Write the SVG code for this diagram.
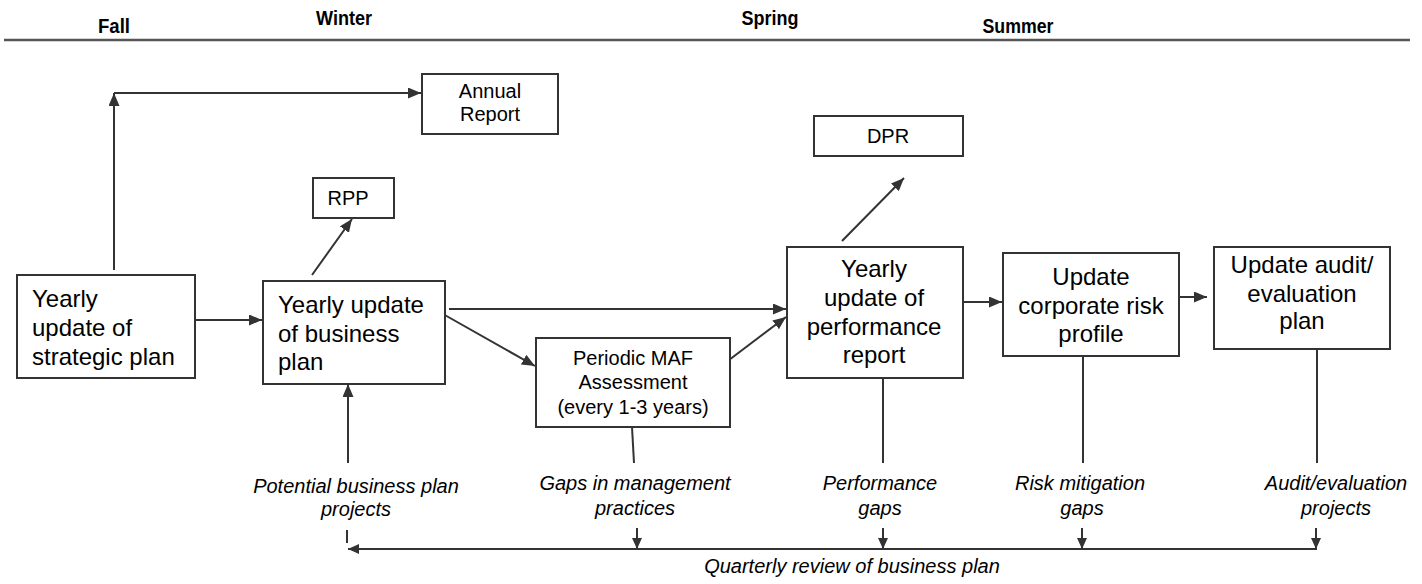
<svg xmlns="http://www.w3.org/2000/svg" width="1422" height="584" viewBox="0 0 1422 584">
<style>
.box{fill:#fff;stroke:#333;stroke-width:2}
.ln{fill:none;stroke:#333;stroke-width:2}
.hd{font-family:"Liberation Sans",Arial,sans-serif;font-weight:bold;font-size:20px;fill:#000;text-anchor:middle}
.big{font-family:"Liberation Sans",Arial,sans-serif;font-size:24px;fill:#000}
.sm{font-family:"Liberation Sans",Arial,sans-serif;font-size:20px;fill:#000;text-anchor:middle}
.it{font-family:"Liberation Sans",Arial,sans-serif;font-size:20px;font-style:italic;fill:#000;text-anchor:middle}
.c{text-anchor:middle}
</style>
<defs>
<marker id="ah" markerUnits="userSpaceOnUse" markerWidth="13" markerHeight="11" refX="13" refY="5.5" orient="auto">
<path d="M0,0 L13,5.5 L0,11 z" fill="#333"/>
</marker>
<marker id="ahs" markerUnits="userSpaceOnUse" markerWidth="11" markerHeight="10" refX="11" refY="5" orient="auto">
<path d="M0,0 L11,5 L0,10 z" fill="#333"/>
</marker>
</defs>
<rect width="1422" height="584" fill="#fff"/>
<g id="header">
<line x1="4" y1="40" x2="1410" y2="40" stroke="#555" stroke-width="2.5"/>
<text class="hd" x="114" y="33" textLength="32" lengthAdjust="spacingAndGlyphs">Fall</text>
<text class="hd" x="344" y="25" textLength="56" lengthAdjust="spacingAndGlyphs">Winter</text>
<text class="hd" x="770" y="25" textLength="57" lengthAdjust="spacingAndGlyphs">Spring</text>
<text class="hd" x="1018" y="33" textLength="71" lengthAdjust="spacingAndGlyphs">Summer</text>
</g>
<g id="connectors">
<line class="ln" x1="114" y1="270" x2="114" y2="93" marker-end="url(#ah)"/>
<line class="ln" x1="114" y1="93" x2="421" y2="93" marker-end="url(#ah)"/>
<line class="ln" x1="193" y1="320" x2="262" y2="320" marker-end="url(#ah)"/>
<line class="ln" x1="312" y1="275" x2="352" y2="219" marker-end="url(#ah)"/>
<line class="ln" x1="449" y1="309" x2="786" y2="309" marker-end="url(#ah)"/>
<line class="ln" x1="443" y1="314" x2="535" y2="366" marker-end="url(#ah)"/>
<line class="ln" x1="729" y1="360" x2="786" y2="317" marker-end="url(#ah)"/>
<line class="ln" x1="842" y1="241" x2="904" y2="178" marker-end="url(#ah)"/>
<line class="ln" x1="963" y1="302" x2="1002" y2="302" marker-end="url(#ah)"/>
<line class="ln" x1="1179" y1="297" x2="1207" y2="297" marker-end="url(#ah)"/>
<line class="ln" x1="348" y1="463" x2="348" y2="384" marker-end="url(#ah)"/>
<line class="ln" x1="632" y1="427" x2="634" y2="463"/>
<line class="ln" x1="883" y1="378" x2="883" y2="463"/>
<line class="ln" x1="1083" y1="356" x2="1083" y2="463"/>
<line class="ln" x1="1317" y1="349" x2="1317" y2="463"/>
<line class="ln" x1="347" y1="530" x2="347" y2="543"/>
<line class="ln" x1="1317" y1="549" x2="348" y2="549" marker-end="url(#ahs)"/>
<line class="ln" x1="637" y1="528" x2="637" y2="549" marker-end="url(#ahs)"/>
<line class="ln" x1="883" y1="528" x2="883" y2="549" marker-end="url(#ahs)"/>
<line class="ln" x1="1082" y1="528" x2="1082" y2="549" marker-end="url(#ahs)"/>
<line class="ln" x1="1316" y1="528" x2="1316" y2="549" marker-end="url(#ahs)"/>
</g>
<g id="strategic">
<rect class="box" x="17" y="275" width="178" height="103"/>
<text class="big" x="32" y="307">Yearly</text>
<text class="big" x="32" y="336">update of</text>
<text class="big" x="32" y="365">strategic plan</text>
</g>
<g id="annual">
<rect class="box" x="422" y="74" width="136" height="60"/>
<text class="sm" x="490" y="98">Annual</text>
<text class="sm" x="490" y="121">Report</text>
</g>
<g id="rpp">
<rect class="box" x="313" y="178" width="81" height="40"/>
<text class="sm" x="348" y="205">RPP</text>
</g>
<g id="business">
<rect class="box" x="263" y="281" width="182" height="103"/>
<text class="big" x="278" y="313">Yearly update</text>
<text class="big" x="278" y="342">of business</text>
<text class="big" x="278" y="370">plan</text>
</g>
<g id="maf">
<rect class="box" x="536" y="338" width="194" height="89"/>
<text class="sm" x="633" y="365">Periodic MAF</text>
<text class="sm" x="633" y="389">Assessment</text>
<text class="sm" x="633" y="414">(every 1-3 years)</text>
</g>
<g id="dpr">
<rect class="box" x="814" y="116" width="149" height="40"/>
<text class="sm" x="888" y="143">DPR</text>
</g>
<g id="performance">
<rect class="box" x="787" y="247" width="176" height="131"/>
<text class="big c" x="874" y="277">Yearly</text>
<text class="big c" x="874" y="306">update of</text>
<text class="big c" x="874" y="335">performance</text>
<text class="big c" x="874" y="363">report</text>
</g>
<g id="risk">
<rect class="box" x="1003" y="253" width="176" height="103"/>
<text class="big c" x="1091" y="285">Update</text>
<text class="big c" x="1091" y="314">corporate risk</text>
<text class="big c" x="1091" y="342">profile</text>
</g>
<g id="audit">
<rect class="box" x="1214" y="247" width="176" height="102"/>
<text class="big c" x="1302" y="273">Update audit/</text>
<text class="big c" x="1302" y="302">evaluation</text>
<text class="big c" x="1302" y="329">plan</text>
</g>
<g id="labels">
<text class="it" x="356" y="493">Potential business plan</text>
<text class="it" x="356" y="516">projects</text>
<text class="it" x="635" y="490">Gaps in management</text>
<text class="it" x="635" y="515">practices</text>
<text class="it" x="880" y="490">Performance</text>
<text class="it" x="880" y="515">gaps</text>
<text class="it" x="1080" y="490">Risk mitigation</text>
<text class="it" x="1082" y="515">gaps</text>
<text class="it" x="1336" y="490">Audit/evaluation</text>
<text class="it" x="1336" y="515">projects</text>
<text class="it" x="852" y="573">Quarterly review of business plan</text>
</g>
</svg>
